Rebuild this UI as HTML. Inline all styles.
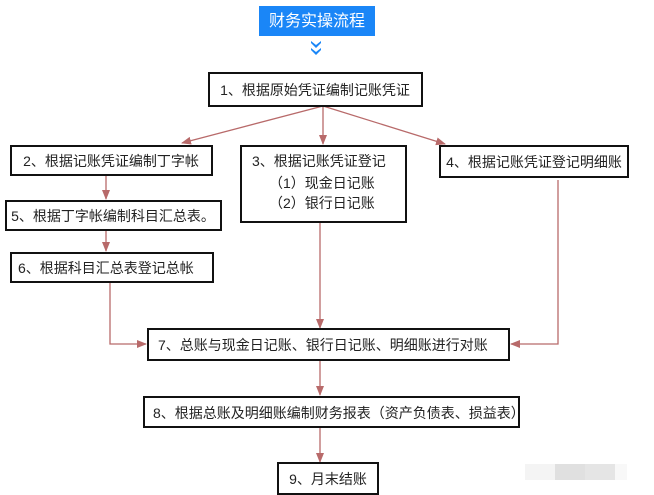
<!DOCTYPE html>
<html><head><meta charset="utf-8"><style>
html,body{margin:0;padding:0;background:#fff;}
svg{display:block;}
text{font-family:"Liberation Sans","Noto Sans CJK SC",sans-serif;font-size:14px;fill:#222;}
</style></head><body>
<svg width="654" height="495" viewBox="0 0 654 495" xmlns="http://www.w3.org/2000/svg">
<defs>
<marker id="a" markerWidth="10" markerHeight="8" refX="9" refY="4" orient="auto" markerUnits="userSpaceOnUse">
<path d="M0,0 L10,4 L0,8 Z" fill="#b86a6a"/>
</marker>
</defs>
<rect x="259" y="6" width="116" height="30" fill="#1a86f7"/>
<text x="317" y="26" text-anchor="middle" style="fill:#fff;font-size:16px">财务实操流程</text>
<path d="M311,41 L316,45 L321,41 L321,43 L316,48 L311,43Z M311,48 L316,52 L321,48 L321,50 L316,55 L311,50Z" fill="#1a86f7"/>
<g stroke="#b86a6a" stroke-width="1.3" fill="none">
<line x1="323" y1="106" x2="182" y2="143" marker-end="url(#a)"/>
<line x1="323" y1="106" x2="323" y2="144" marker-end="url(#a)"/>
<line x1="323" y1="106" x2="445" y2="144" marker-end="url(#a)"/>
<line x1="106" y1="175" x2="106" y2="199" marker-end="url(#a)"/>
<line x1="106" y1="230" x2="106" y2="251" marker-end="url(#a)"/>
<polyline points="110,282 110,344 146,344" marker-end="url(#a)"/>
<line x1="320" y1="222" x2="320" y2="328" marker-end="url(#a)"/>
<polyline points="558,180 558,344 511,344" marker-end="url(#a)"/>
<line x1="320" y1="360" x2="320" y2="395" marker-end="url(#a)"/>
<line x1="320" y1="427" x2="320" y2="462" marker-end="url(#a)"/>
</g>
<g fill="#fff" stroke="#111" stroke-width="2">
<rect x="209" y="73" width="213" height="33"/>
<rect x="11" y="146" width="201" height="29"/>
<rect x="241" y="146" width="165" height="76"/>
<rect x="440" y="146" width="188" height="31"/>
<rect x="6" y="201" width="215" height="29"/>
<rect x="11" y="253" width="202" height="29"/>
<rect x="148" y="329" width="361" height="31"/>
<rect x="144" y="397" width="375" height="30"/>
<rect x="278" y="463" width="100" height="31"/>
</g>
<text x="315" y="95" text-anchor="middle">1、根据原始凭证编制记账凭证</text>
<text x="111" y="166" text-anchor="middle">2、根据记账凭证编制丁字帐</text>
<text x="252" y="166">3、根据记账凭证登记</text>
<text x="269" y="188">（1）现金日记账</text>
<text x="269" y="208">（2）银行日记账</text>
<text x="534" y="167" text-anchor="middle">4、根据记账凭证登记明细账</text>
<text x="113" y="221" text-anchor="middle">5、根据丁字帐编制科目汇总表。</text>
<text x="18" y="273">6、根据科目汇总表登记总帐</text>
<text x="158" y="350">7、总账与现金日记账、银行日记账、明细账进行对账</text>
<text x="153" y="418">8、根据总账及明细账编制财务报表（资产负债表、损益表）</text>
<text x="328" y="484" text-anchor="middle">9、月末结账</text>
<g opacity="0.6">
<rect x="525" y="464" width="30" height="16" fill="#eee"/>
<rect x="555" y="464" width="30" height="16" fill="#ccc"/>
<rect x="585" y="464" width="30" height="16" fill="#d4d4d4"/>
<rect x="615" y="464" width="12" height="16" fill="#f4f4f4"/>
</g>
</svg>
</body></html>
